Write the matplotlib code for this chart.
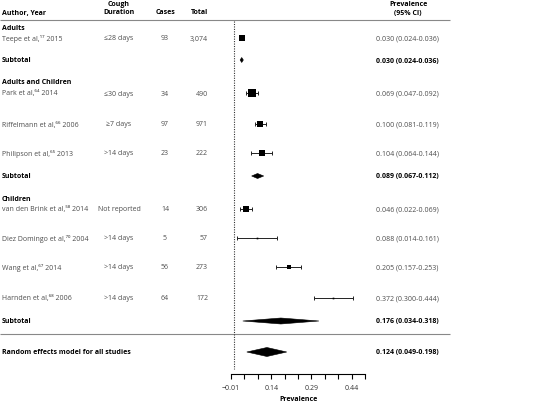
import numpy as np
import matplotlib
matplotlib.use("Agg")
import matplotlib.pyplot as plt

plt.rcParams['font.family'] = ['Open Sans', 'DejaVu Sans']

# studies
authors = ["Teepe et al,\u00b9\u2077 2015", "Park et al,\u2076\u2074 2014", "Riffelmann et al,\u2076\u2076 2006",
           "Philipson et al,\u2076\u2075 2013", "van den Brink et al,\u2075\u2078 2014",
           "Diez Domingo et al,\u2077\u2070 2004", "Wang et al,\u2076\u2077 2014", "Harnden et al,\u2076\u2078 2006"]
durations = ["\u226428 days", "\u226430 days", "\u22657 days", ">14 days", "Not reported",
             ">14 days", ">14 days", ">14 days"]
cases = ["93", "34", "97", "23", "14", "5", "56", "64"]
totals = ["3,074", "490", "971", "222", "306", "57", "273", "172"]
est = [0.030, 0.069, 0.100, 0.104, 0.046, 0.088, 0.205, 0.372]
lo = [0.024, 0.047, 0.081, 0.064, 0.022, 0.014, 0.157, 0.300]
hi = [0.036, 0.092, 0.119, 0.144, 0.069, 0.161, 0.253, 0.444]
weights = [5.5, 6.5, 6.0, 5.0, 6.0, 1.5, 4.0, 1.5]

# subgroups and overall
groups = ["Adults", "Adults and Children", "Children"]
sub_est = [0.030, 0.089, 0.176]
sub_lo = [0.024, 0.067, 0.034]
sub_hi = [0.036, 0.112, 0.318]
all_est, all_lo, all_hi = 0.124, 0.049, 0.198

# layout (vertical pixel positions of rows)
study_y = [39, 94, 125, 154, 210, 239, 268, 299]
group_y = [28, 83, 200]
sub_y = [61, 177, 322]
all_y = 353
sub_h = [2.5, 2.5, 3.0]

W, H = 549, 402
fig = plt.figure(figsize=(W / 100, H / 100), dpi=100)
bg = fig.add_axes([0, 0, 1, 1])
bg.set_xlim(0, W)
bg.set_ylim(H, 0)
bg.axis('off')

ax = fig.add_axes([231 / W, 1 - 375 / H, 134 / W, 375 / H])
ax.set_xlim(-0.01, 0.49)
ax.set_ylim(375, 0)
ax.patch.set_alpha(0)
for s in ['top', 'right', 'left']:
    ax.spines[s].set_visible(False)
ax.spines['bottom'].set_linewidth(0.8)
ax.set_yticks([])
ticks = np.round(np.arange(-0.01, 0.4901, 0.05), 2)
labels = [("\u2212%.2f" % abs(t) if t < 0 else "%.2f" % t) if i % 3 == 0 else "" for i, t in enumerate(ticks)]
ax.set_xticks(ticks, labels)
ax.tick_params(axis='x', length=3.5, width=0.8, labelsize=5, pad=3.5, labelcolor='#333')
ax.set_xlabel("Prevalence", fontsize=5, fontweight='bold', labelpad=3)

# no-effect line
ax.vlines(0, 22, 370, colors='#333', linestyles=(0, (1, 1.2)), lw=0.8)

fs = 5.0
grey = '#4d4d4d'

# header
bg.text(2, 13, "Author, Year", fontsize=fs, fontweight='bold', va='center')
bg.text(119, 5, "Cough", fontsize=fs, fontweight='bold', ha='center', va='center')
bg.text(119, 13, "Duration", fontsize=fs, fontweight='bold', ha='center', va='center')
bg.text(165, 13, "Cases", fontsize=fs, fontweight='bold', ha='center', va='center')
bg.text(199, 13, "Total", fontsize=fs, fontweight='bold', ha='center', va='center')
bg.text(408, 5, "Prevalence", fontsize=fs, fontweight='bold', ha='center', va='center')
bg.text(408, 13, "(95% CI)", fontsize=fs, fontweight='bold', ha='center', va='center')
bg.hlines([21, 335], 0, 450, colors='#888888', lw=0.8)

for i in range(len(est)):
    y = study_y[i]
    bg.text(2, y, authors[i], fontsize=fs, color=grey, va='center')
    bg.text(119, y, durations[i], fontsize=fs, color=grey, ha='center', va='center')
    bg.text(165, y, cases[i], fontsize=fs, color=grey, ha='center', va='center')
    bg.text(208, y, totals[i], fontsize=fs, color=grey, ha='right', va='center')
    bg.text(376, y, "%.3f (%.3f-%.3f)" % (est[i], lo[i], hi[i]), fontsize=fs, color=grey, va='center')
    ax.errorbar(est[i], y, xerr=[[est[i] - lo[i]], [hi[i] - est[i]]], fmt='none',
                ecolor='#222', elinewidth=0.7, capsize=1.6, capthick=0.7)
    ax.plot(est[i], y, 's', color='black', ms=weights[i] * 0.8, mew=0)

for g in range(len(groups)):
    bg.text(2, group_y[g], groups[g], fontsize=fs, fontweight='bold', va='center')
    y = sub_y[g]
    bg.text(2, y, "Subtotal", fontsize=fs, fontweight='bold', va='center')
    bg.text(376, y, "%.3f (%.3f-%.3f)" % (sub_est[g], sub_lo[g], sub_hi[g]),
            fontsize=fs, fontweight='bold', va='center')
    h = sub_h[g]
    ax.fill([sub_lo[g], sub_est[g], sub_hi[g], sub_est[g]], [y, y - h, y, y + h],
            color='black', lw=0.4)

bg.text(2, all_y, "Random effects model for all studies", fontsize=fs, fontweight='bold', va='center')
bg.text(376, all_y, "%.3f (%.3f-%.3f)" % (all_est, all_lo, all_hi), fontsize=fs, fontweight='bold', va='center')
ax.fill([all_lo, all_est, all_hi, all_est], [all_y, all_y - 4.5, all_y, all_y + 4.5], color='black', lw=0.4)

fig.savefig("out.png", dpi=100)
